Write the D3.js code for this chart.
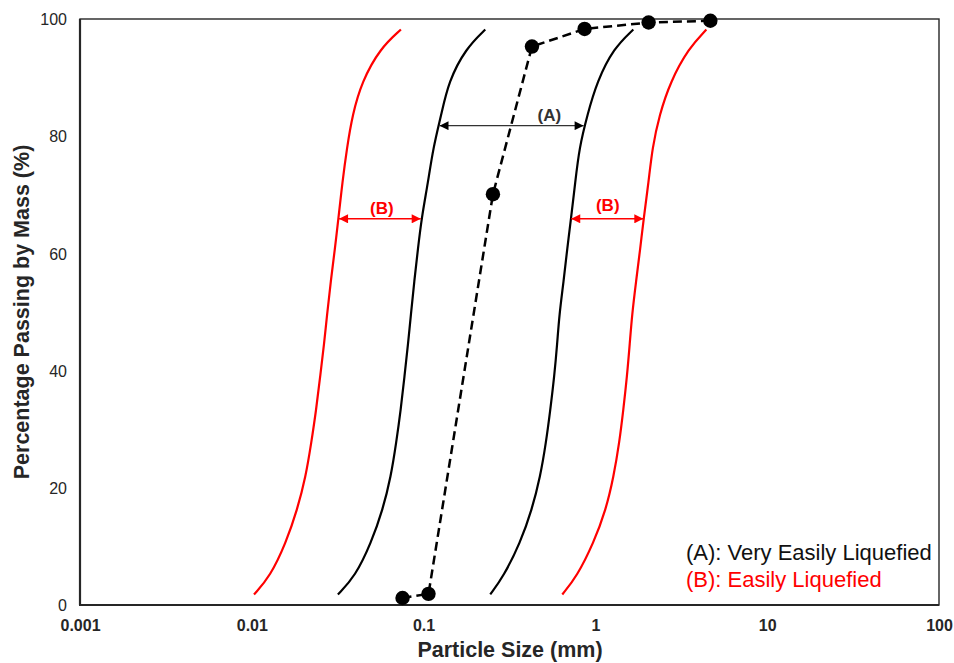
<!DOCTYPE html>
<html>
<head>
<meta charset="utf-8">
<script src="https://cdn.jsdelivr.net/npm/d3@7"></script>
<style>
  html, body { margin: 0; padding: 0; background: #fff; }
  svg { display: block; font-family: "Liberation Sans", Arial, sans-serif; }
</style>
</head>
<body>
<svg id="chart" width="954" height="663"></svg>
<script>
// ---------- data ----------
const passingLevels = [1.8, 4.9, 10.6, 16.3, 21.9, 27.7, 33.3, 39.0, 44.7, 49.5, 55.2, 60.9, 65.9, 72.2, 78.0, 83.6, 89.3, 95.0, 98.2];
const easilyLowerSize = [0.0103, 0.0128, 0.0158, 0.0184, 0.0206, 0.0222, 0.0237, 0.0250, 0.0264, 0.0274, 0.0288, 0.0305, 0.0319, 0.0337, 0.0358, 0.0385, 0.0437, 0.0559, 0.0738];
const veryEasilyLowerSize = [0.0317, 0.0400, 0.0495, 0.0579, 0.0645, 0.0693, 0.0736, 0.0774, 0.0813, 0.0843, 0.0882, 0.0928, 0.0972, 0.1062, 0.1137, 0.1266, 0.1396, 0.1763, 0.2285];
const veryEasilyUpperSize = [0.2443, 0.2920, 0.3652, 0.4273, 0.4776, 0.5157, 0.5463, 0.5764, 0.5999, 0.6162, 0.6529, 0.6860, 0.7209, 0.7637, 0.8058, 0.8971, 1.0217, 1.2764, 1.6622];
const easilyUpperSize = [0.6416, 0.7812, 0.9761, 1.1527, 1.2764, 1.3780, 1.4538, 1.5276, 1.5862, 1.6338, 1.7238, 1.8258, 1.9083, 2.0404, 2.1444, 2.3563, 2.7311, 3.4904, 4.4248];

const sampleSize = [0.0754, 0.1068, 0.2533, 0.4273, 0.8651, 2.0404, 4.669];
const samplePassing = [1.2, 1.9, 70.1, 95.3, 98.3, 99.4, 99.7];

const xTickValues = [0.001, 0.01, 0.1, 1, 10, 100];
const xTickLabels = ["0.001", "0.01", "0.1", "1", "10", "100"];
const yTickValues = [0, 20, 40, 60, 80, 100];

// annotation arrows: [fromSize, toSize, passing]
const arrowA = [0.1238, 0.8538, 81.8];
const arrowBLeft = [0.0322, 0.0962, 65.9];
const arrowBRight = [0.7237, 1.901, 65.9];

const legendLabels = ["(A): Very Easily Liquefied", "(B): Easily Liquefied"];

// ---------- layout ----------
const RED = "#ff0000";
const INK = "#262626";
const svg = d3.select("#chart");
const x = d3.scaleLog().domain([0.001, 100]).range([80, 939]);
const y = d3.scaleLinear().domain([0, 100]).range([605, 19]);

// markers
const defs = svg.append("defs");
function addMarker(id, color, reverse) {
  defs.append("marker")
    .attr("id", id)
    .attr("viewBox", "0 0 10 10")
    .attr("refX", reverse ? 0 : 10).attr("refY", 5)
    .attr("markerWidth", 10).attr("markerHeight", 9)
    .attr("markerUnits", "userSpaceOnUse")
    .attr("orient", "auto")
    .append("path")
    .attr("d", reverse ? "M10,0 L0,5 L10,10 Z" : "M0,0 L10,5 L0,10 Z")
    .attr("fill", color);
}
addMarker("arrK", "#000", false);
addMarker("arrKs", "#000", true);
addMarker("arrR", RED, false);
addMarker("arrRs", RED, true);

// frame
svg.append("rect")
  .attr("x", x(0.001)).attr("y", y(100))
  .attr("width", x(100) - x(0.001)).attr("height", y(0) - y(100))
  .attr("fill", "none").attr("stroke", INK).attr("stroke-width", 1.4);
svg.append("line").attr("x1", x(0.001)).attr("x2", x(0.001)).attr("y1", y(100)).attr("y2", y(0))
  .attr("stroke", INK).attr("stroke-width", 2.2);
svg.append("line").attr("x1", x(0.001) - 1).attr("x2", x(100)).attr("y1", y(0)).attr("y2", y(0))
  .attr("stroke", INK).attr("stroke-width", 2.2);

// axes (labels only)
const xAxis = d3.axisBottom(x).tickValues(xTickValues)
  .tickFormat((d, i) => xTickLabels[i]).tickSize(0).tickPadding(0);
const gx = svg.append("g").attr("transform", `translate(0,${y(0)})`).call(xAxis);
gx.select(".domain").remove();
gx.selectAll("text").attr("y", 26).attr("dy", null)
  .attr("font-size", 16).attr("font-weight", "bold").attr("fill", INK)
  .attr("font-family", "'Liberation Sans', Arial, sans-serif");

const yAxis = d3.axisLeft(y).tickValues(yTickValues).tickSize(0).tickPadding(0);
const gy = svg.append("g").attr("transform", `translate(${x(0.001)},0)`).call(yAxis);
gy.select(".domain").remove();
gy.selectAll("text").attr("x", -13).attr("dy", "0.35em")
  .attr("font-size", 16).attr("fill", INK)
  .attr("font-family", "'Liberation Sans', Arial, sans-serif");

// axis titles
svg.append("text").attr("x", 510).attr("y", 657).attr("text-anchor", "middle")
  .attr("font-size", 21.5).attr("font-weight", "bold").attr("fill", INK)
  .text("Particle Size (mm)");
svg.append("text").attr("transform", "translate(29,312) rotate(-90)").attr("text-anchor", "middle")
  .attr("font-size", 21.5).attr("font-weight", "bold").attr("fill", INK)
  .text("Percentage Passing by Mass (%)");

// bound curves
const curveLine = d3.line().x(d => x(d[0])).y(d => y(d[1])).curve(d3.curveBasis);
const bounds = [
  { sizes: easilyLowerSize, color: RED },
  { sizes: veryEasilyLowerSize, color: "#000" },
  { sizes: veryEasilyUpperSize, color: "#000" },
  { sizes: easilyUpperSize, color: RED }
];
bounds.forEach(b => {
  svg.append("path")
    .datum(b.sizes.map((s, i) => [s, passingLevels[i]]))
    .attr("d", curveLine)
    .attr("fill", "none").attr("stroke", b.color).attr("stroke-width", 2.2);
});

// sample gradation (dashed with markers)
const sample = sampleSize.map((s, i) => [s, samplePassing[i]]);
svg.append("path").datum(sample)
  .attr("d", d3.line().x(d => x(d[0])).y(d => y(d[1])))
  .attr("fill", "none").attr("stroke", "#000").attr("stroke-width", 2.5)
  .attr("stroke-dasharray", "9,5");
svg.selectAll("circle.pt").data(sample).join("circle")
  .attr("class", "pt")
  .attr("cx", d => x(d[0])).attr("cy", d => y(d[1])).attr("r", 7.2)
  .attr("fill", "#000");

// arrows
function arrow(a, color, mStart, mEnd, width) {
  svg.append("line")
    .attr("x1", x(a[0])).attr("x2", x(a[1]))
    .attr("y1", y(a[2])).attr("y2", y(a[2]))
    .attr("stroke", color).attr("stroke-width", width)
    .attr("marker-start", `url(#${mStart})`).attr("marker-end", `url(#${mEnd})`);
}
arrow(arrowA, "#333", "arrKs", "arrK", 1.2);
arrow(arrowBLeft, RED, "arrRs", "arrR", 1.5);
arrow(arrowBRight, RED, "arrRs", "arrR", 1.5);

svg.append("text").attr("x", x(0.539)).attr("y", y(arrowA[2]) - 5).attr("text-anchor", "middle")
  .attr("font-size", 17).attr("font-weight", "bold").attr("fill", "#333").text("(A)");
svg.append("text").attr("x", x(0.0572)).attr("y", y(arrowBLeft[2]) - 5).attr("text-anchor", "middle")
  .attr("font-size", 17).attr("font-weight", "bold").attr("fill", RED).text("(B)");
svg.append("text").attr("x", x(1.18)).attr("y", y(arrowBRight[2]) - 8).attr("text-anchor", "middle")
  .attr("font-size", 17).attr("font-weight", "bold").attr("fill", RED).text("(B)");

// legend text
svg.append("text").attr("x", 686).attr("y", 560).attr("font-size", 22).attr("fill", "#111")
  .text(legendLabels[0]);
svg.append("text").attr("x", 686).attr("y", 587).attr("font-size", 22).attr("fill", RED)
  .text(legendLabels[1]);
</script>
</body>
</html>
